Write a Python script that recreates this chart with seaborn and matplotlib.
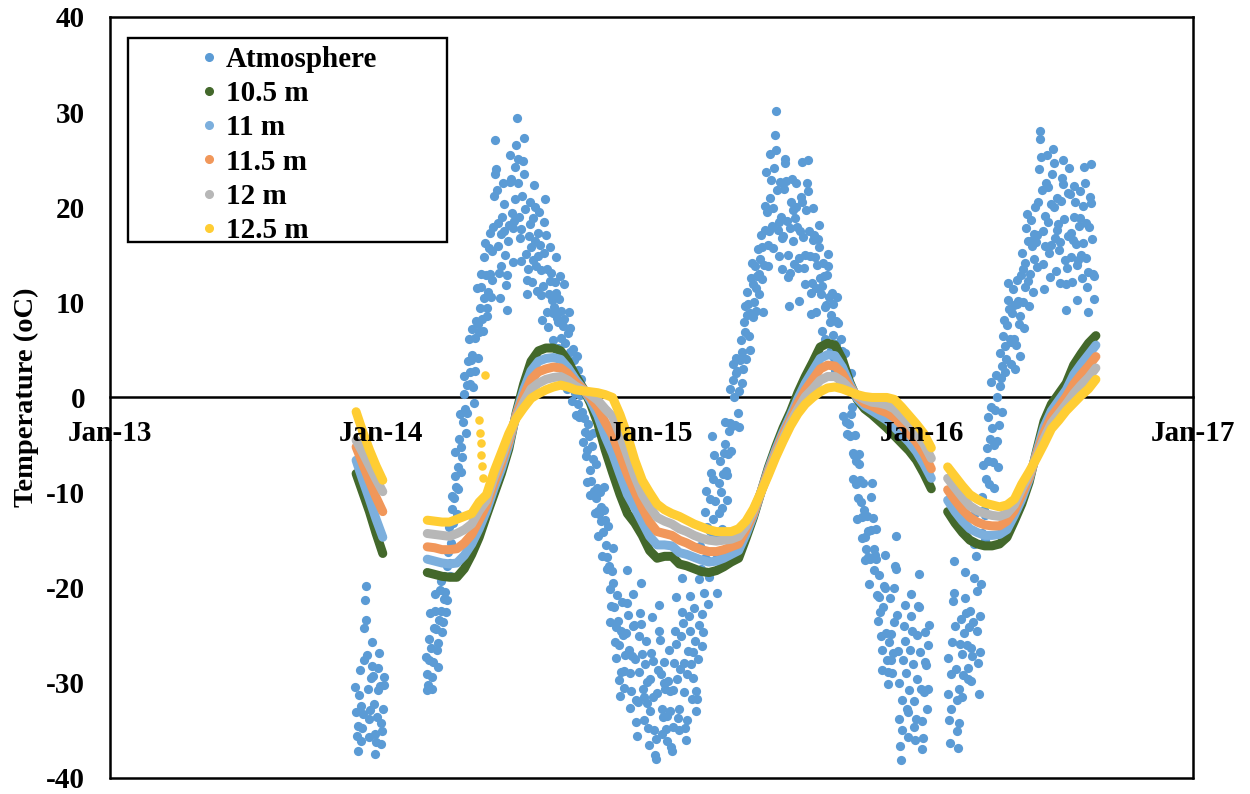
import pandas as pd
import matplotlib
matplotlib.use("Agg")
import matplotlib.pyplot as plt
import matplotlib.dates as mdates
from matplotlib.ticker import MultipleLocator
from matplotlib.patches import Rectangle
from matplotlib.lines import Line2D
import seaborn as sns

sns.set_theme(style="white")
plt.rcParams["font.family"] = ["Liberation Serif", "DejaVu Serif"]
plt.rcParams["font.weight"] = "bold"
plt.rcParams["axes.unicode_minus"] = False

# ---------------------------------------------------------------------------
# Daily air temperature, three recording periods (one row = 15 days)
# ---------------------------------------------------------------------------
atm_starts = ["2013-11-28", "2014-03-03", "2016-02-05"]

atm_period1 = [
    -30.4, -33.1, -35.6, -37.2, -34.5, -31.3, -28.7, -32.4, -36.1, -34.8, -33.3, -27.6, -24.2, -21.3, -19.8,
    -23.4, -27.1, -30.6, -33.8, -35.7, -32.9, -29.5, -28.2, -25.7, -29.3, -32.2, -35.4, -37.5, -36.2, -33.6,
    -30.8, -28.4, -26.9, -30.3, -34.2, -36.4, -35.1, -32.7, -30.2, -29.4,
]

atm_period2 = [
    -27.3, -29.1, -30.8, -30.2, -27.6, -25.4, -22.7, -26.3, -29.4, -30.6, -27.8, -24.2, -22.4, -20.7, -24.3,
    -26.6, -28.3, -25.8, -23.4, -20.2, -19.3, -22.4, -24.7, -23.6, -21.2, -18.8, -20.4, -22.6, -21.3, -17.7,
    -16.2, -13.6, -17.4, -18.8, -15.3, -11.7, -10.4, -13.2, -10.6, -8.3, -5.7, -9.4, -12.2, -9.6, -7.3,
    -4.4, -1.7, -5.2, -7.8, -6.3, -2.6, 0.4, 2.3, -1.2, -3.7, -1.6, 1.3, 3.8, 6.2, 2.7,
    1.4, 3.9, 7.2, 4.5, 1.1, -0.6, 2.8, 6.3, 8.0, 11.5, 7.7, 4.2, 6.9, 9.4, 13.0,
    11.6, 8.3, 7.0, 10.5, 14.8, 16.2, 12.9, 9.4, 8.6, 11.1, 15.7, 17.3, 13.0, 10.6, 12.4,
    15.4, 17.9, 21.2, 23.5, 27.1, 24.0, 21.8, 18.3, 15.9, 13.1, 10.5, 13.8, 17.2, 19.0, 22.6,
    20.3, 17.5, 15.0, 11.8, 9.2, 12.9, 16.4, 18.1, 22.7, 25.5, 23.0, 19.4, 17.8, 14.2, 18.6,
    20.9, 24.2, 26.5, 29.4, 25.1, 22.6, 19.0, 16.8, 14.3, 17.7, 21.2, 24.9, 27.3, 23.5, 19.8,
    15.1, 12.4, 10.9, 13.5, 17.0, 20.6, 18.2, 15.8, 12.1, 14.5, 18.9, 22.3, 20.0, 16.4, 13.8,
    11.2, 14.9, 17.3, 19.5, 16.0, 13.4, 10.8, 8.1, 11.7, 15.2, 18.5, 20.9, 17.1, 13.5, 9.0,
    7.4, 10.9, 12.2, 15.8, 13.1, 10.3, 8.9, 6.0, 9.5, 12.1, 14.8, 11.0, 8.4, 5.2, 7.9,
    10.4, 12.8, 9.1, 6.3, 4.0, 7.5, 11.9, 8.2, 5.7, 2.1, 0.9, 3.4, 6.8, 9.0, 7.3,
    4.8, 1.7, -0.4, 2.6, 5.1, 3.9, 0.5, -1.8, 1.2, 4.4, 2.9, -0.7, -2.1, 0.3, -1.6,
    1.9, -1.5, -4.7, -2.2, 0.8, -3.6, -6.1, -8.9, -5.5, -2.8, -4.0, -7.6, -10.3, -8.8, -5.1,
    -3.7, -6.5, -9.8, -12.1, -10.6, -7.0, -9.5, -11.9, -14.6, -12.2, -9.9, -11.5, -13.0, -16.7, -14.1,
    -11.8, -9.4, -12.9, -15.5, -18.0, -16.8, -13.5, -17.7, -20.1, -23.6, -21.9, -18.2, -15.8, -19.5, -22.0,
    -25.7, -27.4, -24.1, -20.8, -23.5, -26.0, -29.7, -31.4, -28.9, -24.6, -21.5, -25.0, -28.8, -30.5, -27.1,
    -24.8, -21.6, -18.1, -22.9, -26.5, -29.0, -32.6, -30.9, -27.2, -24.0, -20.7, -23.9, -27.5, -31.8, -34.1,
    -35.6, -32.0, -28.9, -25.1, -22.7, -19.5, -23.8, -27.0, -30.7, -33.9, -31.5, -28.0, -25.6, -29.9, -32.1,
    -34.8, -36.5, -33.0, -29.6, -26.9, -23.1, -27.7, -31.5, -35.0, -37.6, -38.0, -35.9, -31.1, -28.6, -24.5,
    -21.8, -25.5, -29.1, -32.7, -35.4, -33.6, -30.0, -27.8, -30.6, -34.9, -36.1, -33.5, -29.8, -26.6, -30.9,
    -33.0, -36.7, -37.2, -34.6, -30.8, -27.9, -24.5, -21.0, -25.9, -29.6, -33.7, -35.0, -32.8, -28.5, -25.1,
    -22.6, -19.0, -23.7, -27.9, -31.0, -34.8, -36.0, -33.9, -29.1, -26.7, -23.0, -20.9, -24.6, -28.0, -31.7,
    -29.5, -26.8, -22.1, -25.6, -30.9, -33.0, -31.7, -27.5, -23.9, -19.1, -15.6, -18.0, -22.8, -26.1, -24.7,
    -20.6, -16.9, -12.0, -9.8, -13.6, -17.1, -21.7, -18.9, -14.0, -10.7, -7.9, -4.1, -8.6, -12.8, -6.0,
    -10.9, -14.5, -17.0, -20.6, -16.8, -12.1, -9.0, -6.7, -9.9, -13.8, -11.6, -8.0, -5.8, -2.6, -4.9,
    -7.7, -10.8, -8.1, -5.9, -3.5, 0.9, -2.7, -5.6, -3.0, 1.8, 3.5, 0.1, -2.9, 2.6, 4.1,
    2.8, -1.6, -3.1, 0.7, 3.9, 6.0, 4.8, 1.5, 3.0, 7.9, 9.6, 6.9, 4.0, 8.7, 11.1,
    9.8, 6.5, 5.0, 8.9, 12.6, 14.1, 11.9, 8.5, 10.0, 13.8, 11.5, 9.1, 12.8, 15.6, 13.0,
    10.9, 14.6, 17.1, 15.8, 12.5, 9.0, 13.9, 17.6, 20.1, 23.7, 19.5, 16.0, 13.8, 17.5, 21.0,
    25.6, 22.9, 18.0, 15.7, 19.9, 24.1, 27.6, 30.1, 26.0, 21.8, 17.6, 14.9, 18.5, 22.7, 19.0,
    16.8, 13.5, 17.0, 21.9, 24.6, 25.1, 22.8, 18.6, 15.0, 12.7, 9.6, 13.1, 17.8, 20.5, 23.0,
    19.7, 16.5, 14.0, 18.9, 22.5, 20.0, 17.9, 13.6, 10.1, 14.7, 17.5, 21.1, 24.8, 20.6, 16.9,
    13.6, 11.9, 15.0, 19.7, 22.6, 25.0, 21.7, 17.5, 14.9, 11.0, 8.8, 12.0, 16.6, 19.9, 17.1,
    14.8, 11.5, 9.0, 13.9, 16.7, 18.1, 15.8, 12.6, 10.9, 7.0, 11.7, 14.1, 12.8, 9.5, 6.1,
    9.7, 12.9, 15.1, 13.8, 10.6, 7.9, 5.0, 8.7, 11.0, 9.8, 6.6, 4.1, 2.9, 5.6, 8.0,
    10.6, 7.8, 4.0, 1.9, 3.7, 6.1, 4.9, 1.6, -1.9, 2.8, 4.7, 1.0, -2.6, -3.8, 0.9,
    1.7, -2.8, -4.0, -1.7, 2.6, -1.0, -5.8, -8.6, -6.0, -3.9, -6.7, -9.1, -12.8, -10.6, -7.0,
    -5.9, -8.7, -11.0, -14.8, -12.6, -9.0, -11.8, -14.7, -17.1, -15.9, -12.5, -14.0, -16.8, -19.6, -17.0,
    -13.9, -10.5, -9.0, -12.7, -15.9, -18.1, -16.6, -13.8, -17.0, -20.8, -23.5, -21.0, -18.7, -22.6, -25.1,
    -28.7, -26.5, -22.0, -19.8, -16.6, -20.0, -24.8, -27.6, -30.1, -28.9, -25.7, -21.1, -24.9, -27.6, -29.0,
    -26.9, -23.6, -20.0, -17.7, -14.6, -18.0, -22.9, -26.7, -30.0, -33.8, -36.6, -38.1, -35.0, -31.8, -27.6,
    -24.0, -21.8, -25.6, -29.0, -32.8, -35.7, -33.1, -30.8, -26.6, -23.0, -20.7, -24.6, -28.0, -31.9, -34.6,
    -36.0, -33.8, -29.6, -25.0, -21.9, -18.6, -22.0, -26.8, -30.6, -34.0, -37.0, -35.8, -31.0, -27.8, -24.7,
    -28.1, -32.8, -30.6, -26.0, -23.9,
]

atm_period3 = [
    -27.4, -31.2, -33.9, -36.3, -32.8, -29.1, -25.7, -21.4, -17.2, -20.6, -24.0, -28.5, -31.8, -35.1, -36.9,
    -34.2, -30.6, -25.9, -23.3, -27.0, -31.5, -29.2, -24.8, -21.1, -18.3, -22.7, -26.0, -29.6, -28.4, -24.1,
    -22.5, -26.3, -29.8, -27.2, -23.6, -19.0, -15.4, -12.1, -16.7, -20.3, -24.5, -27.9, -31.2, -26.8, -23.0,
    -19.6, -14.2, -10.5, -7.1, -11.8, -15.0, -12.4, -8.6, -5.3, -2.0, -6.7, -9.1, -4.4, -1.0, 1.6,
    -3.2, -6.8, -9.5, -5.0, -1.3, 2.4, 0.1, -4.6, -7.3, -2.9, 1.2, 4.7, 2.0, -1.5, 3.3,
    6.5, 8.1, 5.4, 2.7, 4.0, 7.6, 10.2, 12.0, 9.3, 6.1, 3.5, 5.8, 8.9, 11.4, 9.7,
    6.2, 3.0, 5.5, 9.8, 12.3, 10.1, 7.7, 4.4, 8.6, 12.9, 15.2, 13.5, 10.0, 7.3, 11.6,
    14.1, 17.8, 19.3, 16.5, 12.2, 9.6, 13.0, 16.4, 18.7, 15.9, 11.1, 14.6, 17.2, 20.0, 16.3,
    13.7, 17.1, 20.5, 24.0, 27.2, 28.0, 25.3, 21.8, 17.5, 14.0, 11.4, 15.9, 19.1, 22.6, 25.5,
    22.1, 18.4, 15.2, 12.7, 16.0, 20.3, 23.5, 26.1, 24.6, 20.0, 16.8, 13.3, 17.6, 21.0, 18.2,
    15.5, 12.0, 16.3, 20.7, 23.1, 25.0, 22.4, 18.8, 14.5, 11.9, 9.2, 13.6, 17.0, 21.5, 24.1,
    21.4, 17.3, 14.8, 12.1, 16.6, 19.0, 22.2, 20.5, 16.1, 13.9, 10.3, 14.5, 18.0, 21.7, 18.9,
    15.0, 12.6, 16.2, 20.1, 24.2, 22.5, 18.3, 14.7, 11.6, 9.0, 13.2, 17.9, 21.1, 24.5, 20.4,
    16.7, 13.0, 10.4, 12.8,
]

# ---------------------------------------------------------------------------
# Ground temperature at five depths, three recording periods
# ---------------------------------------------------------------------------
soil_starts = ["2013-11-29", "2014-03-05", "2016-02-05"]
soil_steps_days = [9, 10, 10]

d105_p1 = [-8.0, -10.0, -12.0, -14.3, -16.4]
d105_p2 = [-18.4, -18.6, -18.8, -18.9, -18.9, -18.0, -16.5, -14.7, -12.4, -10.2,
           -8.0, -5.4, -1.6, 1.4, 3.8, 4.9, 5.2, 5.2, 4.9, 3.8,
           2.3, 1.0, -0.6, -2.7, -5.5, -7.9, -10.2, -12.2, -13.2, -14.5,
           -16.1, -16.9, -16.7, -16.7, -17.5, -17.7, -18.0, -18.3, -18.4, -18.2,
           -17.8, -17.3, -16.9, -14.8, -12.6, -10.0, -7.4, -5.2, -3.2, -1.5,
           0.5, 2.2, 3.7, 5.3, 5.7, 5.5, 4.0, 1.6, -0.2, -1.2,
           -1.8, -2.5, -3.2, -4.0, -4.8, -5.6, -6.6, -8.0, -9.6]
d105_p3 = [-12.0, -13.2, -14.2, -15.0, -15.4, -15.6, -15.6, -15.4, -14.7, -13.0,
           -11.2, -8.9, -5.6, -2.5, -0.7, 0.4, 1.5, 3.4, 4.6, 5.7, 6.5]

d11_p1 = [-6.6, -8.7, -10.7, -12.8, -14.7]
d11_p2 = [-17.0, -17.2, -17.4, -17.5, -17.4, -16.6, -15.4, -13.8, -11.9, -9.6,
          -7.5, -5.0, -1.8, 0.8, 2.8, 3.8, 4.1, 4.2, 4.0, 3.1,
          1.9, 0.9, -0.3, -1.9, -4.1, -5.9, -8.1, -10.2, -11.6, -13.1,
          -14.6, -15.5, -15.5, -15.6, -16.3, -16.5, -16.8, -17.1, -17.3, -17.2,
          -16.9, -16.5, -16.1, -14.4, -12.4, -10.0, -7.6, -5.5, -3.6, -1.9,
          -0.1, 1.5, 2.8, 4.1, 4.5, 4.4, 3.2, 1.4, -0.1, -0.9,
          -1.4, -1.9, -2.4, -3.1, -3.9, -4.7, -5.7, -7.0, -8.5]
d11_p3 = [-10.8, -12.0, -13.0, -13.8, -14.2, -14.5, -14.5, -14.4, -13.9, -12.4,
          -10.7, -8.6, -5.8, -3.1, -1.4, -0.3, 0.8, 2.4, 3.5, 4.5, 5.5]

d115_p1 = [-5.2, -7.0, -8.8, -10.5, -12.0]
d115_p2 = [-15.7, -15.8, -16.0, -16.0, -15.9, -15.3, -14.4, -12.9, -11.3, -9.0,
           -6.9, -4.6, -1.9, 0.2, 1.9, 2.7, 3.0, 3.2, 3.1, 2.5,
           1.6, 0.9, 0.0, -1.1, -2.6, -4.0, -6.0, -8.1, -9.9, -11.6,
           -13.1, -14.1, -14.3, -14.5, -15.0, -15.3, -15.7, -16.0, -16.2, -16.2,
           -16.0, -15.7, -15.4, -13.9, -12.2, -10.0, -7.8, -5.8, -3.9, -2.3,
           -0.6, 0.8, 1.9, 3.0, 3.4, 3.3, 2.5, 1.1, 0.1, -0.6,
           -0.9, -1.3, -1.6, -2.1, -2.9, -3.8, -4.7, -5.9, -7.5]
d115_p3 = [-9.7, -10.8, -11.8, -12.6, -13.1, -13.4, -13.5, -13.5, -13.0, -11.9,
           -10.2, -8.4, -6.0, -3.7, -2.0, -1.0, 0.1, 1.4, 2.4, 3.3, 4.3]

d12_p1 = [-4.5, -5.8, -7.2, -8.6, -9.9]
d12_p2 = [-14.3, -14.4, -14.5, -14.6, -14.3, -13.9, -13.3, -11.9, -10.8, -8.4,
          -6.4, -4.2, -2.1, -0.5, 0.9, 1.5, 1.9, 2.1, 2.2, 1.8,
          1.2, 0.8, 0.3, -0.3, -1.2, -2.0, -3.9, -6.1, -8.3, -10.2,
          -11.5, -12.6, -13.0, -13.3, -13.8, -14.1, -14.5, -14.8, -15.0, -15.1,
          -15.0, -14.9, -14.6, -13.5, -11.9, -10.0, -8.0, -6.0, -4.3, -2.6,
          -1.2, 0.1, 0.9, 1.8, 2.2, 2.2, 1.7, 0.9, 0.2, -0.2,
          -0.5, -0.6, -0.8, -1.2, -2.0, -2.8, -3.8, -4.9, -6.4]
d12_p3 = [-8.5, -9.5, -10.5, -11.4, -11.9, -12.2, -12.4, -12.5, -12.2, -11.3,
          -9.6, -8.1, -6.2, -4.3, -2.7, -1.7, -0.7, 0.4, 1.3, 2.1, 3.1]

d125_p1 = [-1.5, -3.6, -5.5, -7.2, -8.7]
d125_p2 = [-12.9, -13.0, -13.1, -13.1, -12.8, -12.5, -12.2, -11.0, -10.2, -7.8,
           -5.8, -3.8, -2.2, -1.1, -0.1, 0.4, 0.8, 1.1, 1.3, 1.1,
           0.8, 0.7, 0.6, 0.5, 0.3, 0.0, -1.8, -4.0, -6.6, -8.7,
           -10.0, -11.2, -11.8, -12.2, -12.5, -12.9, -13.3, -13.6, -13.9, -14.1,
           -14.1, -14.1, -13.8, -13.0, -11.7, -10.0, -8.2, -6.3, -4.6, -3.0,
           -1.7, -0.7, 0.0, 0.6, 1.0, 1.1, 0.9, 0.6, 0.3, 0.1,
           0.0, 0.0, 0.0, -0.2, -1.0, -1.9, -2.8, -3.8, -5.3]
d125_p3 = [-7.3, -8.3, -9.3, -10.2, -10.7, -11.1, -11.3, -11.5, -11.3, -10.7,
           -9.1, -7.8, -6.4, -4.9, -3.3, -2.4, -1.4, -0.6, 0.2, 0.9, 1.9]

# isolated 12.5 m readings during the May 2014 thaw
d125_extra_dates = ["2014-05-14", "2014-05-15", "2014-05-16", "2014-05-17",
                    "2014-05-18", "2014-05-19", "2014-05-22"]
d125_extra_vals = [-2.4, -3.7, -4.8, -6.0, -7.2, -8.5, 2.4]

series_labels = ["Atmosphere", "10.5 m", "11 m", "11.5 m", "12 m", "12.5 m"]
series_colors = ["#5B9BD5", "#43682B", "#7CAFDD", "#F1975A", "#B7B7B7", "#FFCD33"]


def build_frame(starts, steps, periods):
    parts = []
    for k, (start, step, vals) in enumerate(zip(starts, steps, periods)):
        dates = pd.date_range(start, periods=len(vals), freq=f"{step}D")
        parts.append(pd.DataFrame({"date": dates, "temp": vals, "period": k}))
    return pd.concat(parts, ignore_index=True)


atm_df = build_frame(atm_starts, [1, 1, 1], [atm_period1, atm_period2, atm_period3])
soil_frames = [
    build_frame(soil_starts, soil_steps_days, [d105_p1, d105_p2, d105_p3]),
    build_frame(soil_starts, soil_steps_days, [d11_p1, d11_p2, d11_p3]),
    build_frame(soil_starts, soil_steps_days, [d115_p1, d115_p2, d115_p3]),
    build_frame(soil_starts, soil_steps_days, [d12_p1, d12_p2, d12_p3]),
    build_frame(soil_starts, soil_steps_days, [d125_p1, d125_p2, d125_p3]),
]
extra_df = pd.DataFrame({"date": pd.to_datetime(d125_extra_dates),
                         "temp": d125_extra_vals})

# ---------------------------------------------------------------------------
fig = plt.figure(figsize=(12.5, 7.94), dpi=100)
ax = fig.add_axes([0.088, 0.0202, 0.8664, 0.9584])

# data sits above the zero axis line, tick labels sit above the data
sns.scatterplot(data=atm_df, x="date", y="temp", color=series_colors[0],
                s=44, linewidth=0, legend=False, ax=ax, zorder=2.7)

for frame, color in zip(soil_frames, series_colors[1:]):
    sns.lineplot(data=frame, x="date", y="temp", units="period", estimator=None,
                 color=color, linewidth=6.5, solid_capstyle="round",
                 solid_joinstyle="round", legend=False, ax=ax, zorder=2.8)

sns.scatterplot(data=extra_df, x="date", y="temp", color=series_colors[-1],
                s=38, linewidth=0, legend=False, ax=ax, zorder=2.9)

# axes, ticks
ax.set_xlim(pd.Timestamp("2013-01-01"), pd.Timestamp("2017-01-01"))
ax.set_ylim(-40, 40)
ax.yaxis.set_major_locator(MultipleLocator(10))
ax.xaxis.set_major_locator(mdates.YearLocator())
ax.xaxis.set_minor_locator(mdates.MonthLocator(bymonth=7))
ax.xaxis.set_major_formatter(mdates.DateFormatter("%b-%y"))

for side in ["left", "right", "top", "bottom"]:
    ax.spines[side].set_visible(True)
    ax.spines[side].set_color("black")
    ax.spines[side].set_linewidth(1.8)
ax.spines["bottom"].set_position(("data", 0))
ax.spines["bottom"].set_zorder(2.5)
for side in ["left", "right", "top"]:
    ax.spines[side].set_zorder(3.5)
ax.axhline(-40, color="black", linewidth=1.8, clip_on=False, zorder=3.5)
ax.xaxis.set_zorder(3.2)
ax.yaxis.set_zorder(3.2)

ax.tick_params(axis="x", which="both", direction="inout", length=9, width=1.5,
               color="black", pad=12, labelsize=21, labelcolor="black")
ax.tick_params(axis="y", length=0, pad=18, labelsize=21, labelcolor="black")
ax.grid(False)

ax.set_xlabel("")
ax.set_ylabel("Temperature (oC)", fontsize=20.5, fontweight="bold", color="black")
ax.yaxis.set_label_coords(-0.0655, 0.5)

# legend with its own box
ax.add_patch(Rectangle((0.0166, 0.7043), 0.2946, 0.2681, transform=ax.transAxes,
                       facecolor="white", edgecolor="black", linewidth=1.7,
                       zorder=5))
handles = [Line2D([], [], marker="o", linestyle="", color=c, markersize=5.5)
           for c in series_colors]
leg = ax.legend(handles, series_labels, loc="upper left",
                bbox_to_anchor=(0.0831, 0.9617), frameon=False, fontsize=21,
                handlelength=0.6, handletextpad=0.3, labelspacing=0.245,
                borderpad=0, borderaxespad=0)
leg.set_zorder(6)
for t in leg.get_texts():
    t.set_fontweight("bold")
    t.set_color("black")

fig.savefig("out.png", dpi=100, facecolor="white")
